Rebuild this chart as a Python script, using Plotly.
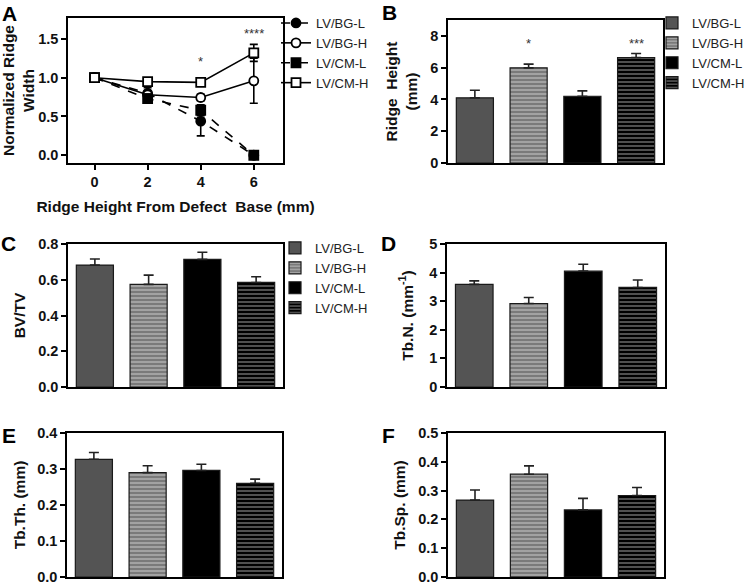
import plotly.graph_objects as go

W, H = 750, 583
FONT = "Liberation Sans, Arial, sans-serif"

groups = ["LV/BG-L", "LV/BG-H", "LV/CM-L", "LV/CM-H"]

# ---- Panel A: normalized ridge width vs ridge height from defect base
heights_mm = [0, 2, 4, 6]
a_bg_l = [1.0, 0.80, 0.44, 0.0]
a_bg_l_err = [0.0, 0.07, 0.19, 0.0]
a_bg_h = [1.0, 0.78, 0.745, 0.96]
a_bg_h_err = [0.0, 0.05, 0.04, 0.29]
a_cm_l = [1.0, 0.73, 0.58, 0.0]
a_cm_l_err = [0.0, 0.06, 0.07, 0.0]
a_cm_h = [1.0, 0.95, 0.94, 1.32]
a_cm_h_err = [0.0, 0.04, 0.03, 0.11]
a_sig_x = [4, 6]
a_sig_y = [1.21, 1.57]
a_sig_text = ["*", "****"]

# ---- Bar panels (order = groups)
ridge_height = [4.10, 5.99, 4.20, 6.64]
ridge_height_err = [0.48, 0.23, 0.34, 0.25]
b_sig_x = [1, 3]
b_sig_y = [7.55, 7.55]
b_sig_text = ["*", "***"]

bvtv = [0.682, 0.574, 0.714, 0.585]
bvtv_err = [0.034, 0.052, 0.040, 0.032]
tbn = [3.59, 2.92, 4.05, 3.48]
tbn_err = [0.12, 0.21, 0.24, 0.26]
tbth = [0.327, 0.290, 0.296, 0.260]
tbth_err = [0.019, 0.019, 0.017, 0.012]
tbsp = [0.267, 0.357, 0.233, 0.283]
tbsp_err = [0.035, 0.029, 0.040, 0.028]

# styles
bar_colors = ["#545454", "#7a7a7a", "#000000", "#000000"]
bar_patterns = ["", "-", "", "-"]
bar_pattern_fg = ["#545454", "#bdbdbd", "#000000", "#858585"]


def px_x(p):
    return p / W


def px_y(p):
    return 1 - p / H


fig = go.Figure()

# Panel domains (pixel boxes: x0, x1, y0(top), y1(bottom))
boxes = {
    1: (68, 283, 18, 163),
    2: (448, 663, 20, 163),
    3: (68, 283, 244, 387),
    4: (447, 665, 244, 387),
    5: (67, 282, 433, 577),
    6: (448, 664, 433, 577),
}

# ---- Panel A traces
a_series = [
    (a_bg_l, a_bg_l_err, "circle", "black", "dash"),
    (a_bg_h, a_bg_h_err, "circle", "white", "solid"),
    (a_cm_l, a_cm_l_err, "square", "black", "dash"),
    (a_cm_h, a_cm_h_err, "square", "white", "solid"),
]
for name, (vals, errs, sym, fill, dash) in zip(groups, a_series):
    fig.add_trace(go.Scatter(
        x=heights_mm, y=vals, name=name, mode="lines+markers",
        line=dict(color="black", width=1.6, dash=dash),
        marker=dict(symbol=sym, size=9, color=fill, line=dict(color="black", width=1.8)),
        error_y=dict(type="data", array=errs, color="black", thickness=1.6, width=4),
        xaxis="x", yaxis="y", legend="legend",
    ))

# ---- Bar panels
bar_panels = [
    (2, ridge_height, ridge_height_err, "legend2", True),
    (3, bvtv, bvtv_err, "legend3", True),
    (4, tbn, tbn_err, "legend", False),
    (5, tbth, tbth_err, "legend", False),
    (6, tbsp, tbsp_err, "legend", False),
]
for idx, vals, errs, leg, show in bar_panels:
    for i, name in enumerate(groups):
        pat = dict(shape=bar_patterns[i], fgcolor=bar_pattern_fg[i],
                   bgcolor=bar_colors[i], size=4, solidity=0.3) if bar_patterns[i] else dict(shape="")
        fig.add_trace(go.Bar(
            x=[i], y=[vals[i]], name=name, width=0.69,
            marker=dict(color=bar_colors[i], pattern=pat,
                        line=dict(color="#1a1a1a", width=1.2)),
            error_y=dict(type="data", array=[errs[i]], arrayminus=[0], symmetric=False,
                         color="#222222", thickness=1.6, width=5),
            xaxis=f"x{idx}", yaxis=f"y{idx}", legend=leg, showlegend=show,
        ))

TICK_FONT = dict(family=FONT, size=14.5, color="#111", weight="bold")
TITLE_FONT = dict(family=FONT, size=15.5, color="#111")

axis_common = dict(showline=True, linecolor="black", linewidth=1.5, mirror=True,
                   showgrid=False, zeroline=False, automargin=False,
                   tickfont=TICK_FONT, ticklabeloverflow="allow")

yaxes = {
    1: dict(range=[-0.1, 1.77], tickvals=[0, 0.5, 1.0, 1.5], tickformat=".1f",
            title=dict(text="<b>Normalized Ridge<br>Width</b>", standoff=6)),
    2: dict(range=[0, 9], tickvals=[0, 2, 4, 6, 8],
            title=dict(text="<b>Ridge &nbsp;Height<br>(mm)</b>", standoff=9)),
    3: dict(range=[0, 0.8], tickvals=[0, 0.2, 0.4, 0.6, 0.8], tickformat=".1f",
            title=dict(text="<b>BV/TV</b>", standoff=9)),
    4: dict(range=[0, 5], tickvals=[0, 1, 2, 3, 4, 5],
            title=dict(text="<b>Tb.N. (mm<sup>-1</sup>)</b>", standoff=12)),
    5: dict(range=[0, 0.4], tickvals=[0, 0.1, 0.2, 0.3, 0.4], tickformat=".1f",
            title=dict(text="<b>Tb.Th. (mm)</b>", standoff=8)),
    6: dict(range=[0, 0.5], tickvals=[0, 0.1, 0.2, 0.3, 0.4, 0.5], tickformat=".1f",
            title=dict(text="<b>Tb.Sp. (mm)</b>", standoff=9)),
}

layout = dict(
    template="none",
    width=W, height=H, margin=dict(l=0, r=0, t=0, b=0, autoexpand=False),
    paper_bgcolor="white", plot_bgcolor="white",
    barmode="overlay", font=dict(family=FONT, color="#111"),
)
for idx, (x0, x1, y0, y1) in boxes.items():
    sx = "" if idx == 1 else str(idx)
    xa = dict(axis_common)
    xa.update(domain=[px_x(x0), px_x(x1)], anchor=f"y{sx}")
    if idx == 1:
        xa.update(range=[-1, 7.1], tickvals=heights_mm, ticks="outside", ticklen=5,
                  tickwidth=1.5, tickcolor="black",
                  title=dict(text="<b>Ridge Height From Defect &nbsp;Base (mm)</b>",
                             font=TITLE_FONT, standoff=12))
    else:
        xa.update(range=[-0.5, 3.5], showticklabels=False, ticks="")
    ya = dict(axis_common)
    ya.update(domain=[px_y(y1), px_y(y0)], anchor=f"x{sx}", ticks="outside", ticklen=5,
              tickwidth=1.5, tickcolor="black")
    ya.update(yaxes[idx])
    ya["title"]["font"] = TITLE_FONT
    layout[f"xaxis{sx}"] = xa
    layout[f"yaxis{sx}"] = ya

leg_font = dict(family=FONT, size=13, color="#222")
layout["legend"] = dict(x=px_x(276), y=px_y(53), xanchor="left", yanchor="middle",
                        font=leg_font, bgcolor="rgba(0,0,0,0)", tracegroupgap=0)
layout["legend2"] = dict(x=1, y=px_y(53), xanchor="right", yanchor="middle",
                         font=leg_font, bgcolor="rgba(0,0,0,0)", tracegroupgap=0)
layout["legend3"] = dict(x=px_x(275), y=px_y(278), xanchor="left", yanchor="middle",
                         font=leg_font, bgcolor="rgba(0,0,0,0)", tracegroupgap=0)

fig.update_layout(**layout)

# significance marks
for xv, yv, t in zip(a_sig_x, a_sig_y, a_sig_text):
    fig.add_annotation(x=xv, y=yv, xref="x", yref="y", text=t, showarrow=False,
                       font=dict(family=FONT, size=13, color="#333"))
for xv, yv, t in zip(b_sig_x, b_sig_y, b_sig_text):
    fig.add_annotation(x=xv, y=yv, xref="x2", yref="y2", text=t, showarrow=False,
                       font=dict(family=FONT, size=13, color="#333"))

# panel letters
letters = [("A", 9, 13), ("B", 389, 12), ("C", 8, 243), ("D", 388, 243), ("E", 9, 435), ("F", 388, 435)]
for t, lx, ly in letters:
    fig.add_annotation(x=px_x(lx), y=px_y(ly), xref="paper", yref="paper", text=f"<b>{t}</b>",
                       showarrow=False, xanchor="center", yanchor="middle",
                       font=dict(family=FONT, size=21, color="black"))

fig.write_html("out.html", config={"displayModeBar": False},
               post_script="document.body.style.margin='0';document.body.style.overflow='hidden';")
